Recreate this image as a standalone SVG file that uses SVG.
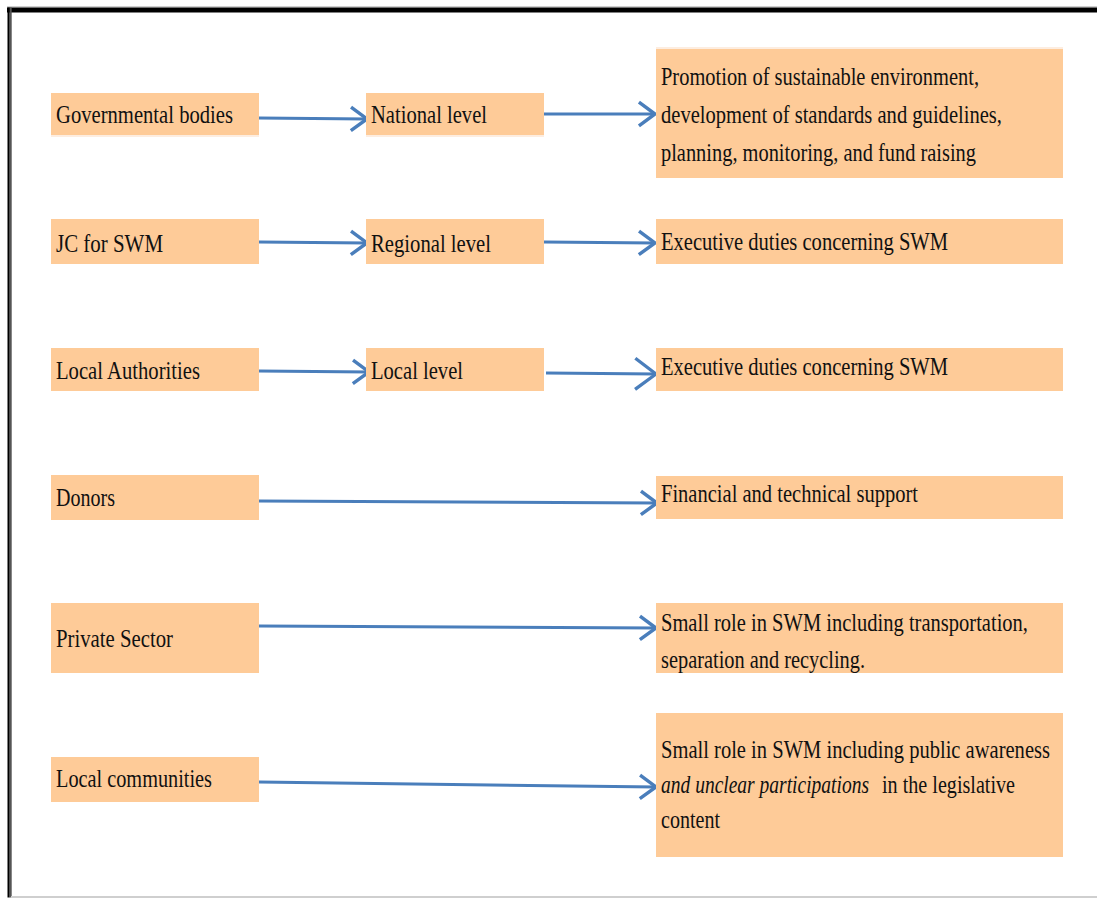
<svg xmlns="http://www.w3.org/2000/svg" width="1097" height="898" viewBox="0 0 1097 898">
<style>
.box{fill:#FECB98}
.sh{fill:#FDEDE0}
.t{font-family:"Liberation Serif","Times New Roman",serif;font-size:25px;fill:#111}
.i{font-style:italic}
.c{stroke:#4A7EBB;stroke-width:3;fill:none}
</style>
<defs>
<marker id="ah" markerUnits="userSpaceOnUse" markerWidth="24" markerHeight="30" viewBox="-18 -14 20 28" refX="0" refY="0" orient="auto">
<path d="M -15 -11 L 0 0 L -15 11" fill="none" stroke="#4A7EBB" stroke-width="3.2"/>
</marker>
<marker id="ahL" markerUnits="userSpaceOnUse" markerWidth="26" markerHeight="36" viewBox="-23 -17 25 34" refX="0" refY="0" orient="auto">
<path d="M -20 -15 L 0 0 L -20 15" fill="none" stroke="#4A7EBB" stroke-width="3.2"/>
</marker>
</defs>
<rect width="1097" height="898" fill="#fff"/>
<g id="frame">
<rect x="7" y="6" width="1090" height="1.5" fill="#cfcfcf"/>
<rect x="7" y="7.5" width="1090" height="5" fill="#000"/>
<rect x="7.5" y="7.5" width="2.2" height="890" fill="#000"/>
<rect x="9.7" y="7.5" width="2" height="890" fill="#555"/>
<rect x="11" y="896" width="1086" height="2" fill="#cfcfcf"/>
</g>
<g id="connectors">
<line class="c" x1="259" y1="118" x2="367" y2="119" marker-end="url(#ah)"/>
<line class="c" x1="544" y1="114" x2="655" y2="114" marker-end="url(#ah)"/>
<line class="c" x1="259" y1="242" x2="367" y2="243" marker-end="url(#ah)"/>
<line class="c" x1="544" y1="242" x2="655" y2="243" marker-end="url(#ah)"/>
<line class="c" x1="259" y1="371" x2="369" y2="372" marker-end="url(#ah)"/>
<line class="c" x1="546" y1="373" x2="656" y2="374" marker-end="url(#ahL)"/>
<line class="c" x1="259" y1="501" x2="657" y2="503" marker-end="url(#ah)"/>
<line class="c" x1="259" y1="626" x2="656" y2="628" marker-end="url(#ah)"/>
<line class="c" x1="259" y1="782" x2="656" y2="787" marker-end="url(#ah)"/>
</g>
<g id="governmental-bodies">
<rect class="sh" x="51" y="135" width="208" height="2"/>
<rect class="box" x="51" y="93" width="208" height="42"/>
<text class="t" x="56" y="123" textLength="177" lengthAdjust="spacingAndGlyphs">Governmental bodies</text>
</g>
<g id="national-level">
<rect class="sh" x="366" y="135" width="178" height="2"/>
<rect class="box" x="366" y="93" width="178" height="42"/>
<text class="t" x="371" y="123" textLength="116" lengthAdjust="spacingAndGlyphs">National level</text>
</g>
<g id="national-role">
<rect class="sh" x="656" y="47" width="407" height="2"/>
<rect class="box" x="656" y="49" width="407" height="129"/>
<text class="t" x="661" y="85" textLength="318" lengthAdjust="spacingAndGlyphs">Promotion of sustainable environment,</text>
<text class="t" x="661" y="123" textLength="341" lengthAdjust="spacingAndGlyphs">development of standards and guidelines,</text>
<text class="t" x="661" y="161" textLength="315" lengthAdjust="spacingAndGlyphs">planning, monitoring, and fund raising</text>
</g>
<g id="jc-for-swm">
<rect class="box" x="51" y="219" width="208" height="45"/>
<text class="t" x="56" y="252" textLength="107" lengthAdjust="spacingAndGlyphs">JC for SWM</text>
</g>
<g id="regional-level">
<rect class="box" x="366" y="219" width="178" height="45"/>
<text class="t" x="371" y="252" textLength="120" lengthAdjust="spacingAndGlyphs">Regional level</text>
</g>
<g id="regional-role">
<rect class="box" x="656" y="219" width="407" height="45"/>
<text class="t" x="661" y="250" textLength="287" lengthAdjust="spacingAndGlyphs">Executive duties concerning SWM</text>
</g>
<g id="local-authorities">
<rect class="box" x="51" y="348" width="208" height="43"/>
<text class="t" x="56" y="379" textLength="144" lengthAdjust="spacingAndGlyphs">Local Authorities</text>
</g>
<g id="local-level">
<rect class="box" x="366" y="348" width="178" height="43"/>
<text class="t" x="371" y="379" textLength="92" lengthAdjust="spacingAndGlyphs">Local level</text>
</g>
<g id="local-role">
<rect class="box" x="656" y="348" width="407" height="43"/>
<text class="t" x="661" y="375" textLength="287" lengthAdjust="spacingAndGlyphs">Executive duties concerning SWM</text>
</g>
<g id="donors">
<rect class="box" x="51" y="475" width="208" height="45"/>
<text class="t" x="56" y="506" textLength="59" lengthAdjust="spacingAndGlyphs">Donors</text>
</g>
<g id="donors-role">
<rect class="box" x="656" y="476" width="407" height="43"/>
<text class="t" x="661" y="502" textLength="257" lengthAdjust="spacingAndGlyphs">Financial and technical support</text>
</g>
<g id="private-sector">
<rect class="box" x="51" y="603" width="208" height="70"/>
<text class="t" x="56" y="647" textLength="117" lengthAdjust="spacingAndGlyphs">Private Sector</text>
</g>
<g id="private-role">
<rect class="box" x="656" y="603" width="407" height="70"/>
<text class="t" x="661" y="631" textLength="367" lengthAdjust="spacingAndGlyphs">Small role in SWM including transportation,</text>
<text class="t" x="661" y="668" textLength="204" lengthAdjust="spacingAndGlyphs">separation and recycling.</text>
</g>
<g id="local-communities">
<rect class="box" x="51" y="757" width="208" height="45"/>
<text class="t" x="56" y="787" textLength="156" lengthAdjust="spacingAndGlyphs">Local communities</text>
</g>
<g id="communities-role">
<rect class="box" x="656" y="713" width="407" height="144"/>
<text class="t" x="661" y="758" textLength="389" lengthAdjust="spacingAndGlyphs">Small role in SWM including public awareness</text>
<text class="t i" x="661" y="793" textLength="208" lengthAdjust="spacingAndGlyphs">and unclear participations</text>
<text class="t" x="882" y="793" textLength="133" lengthAdjust="spacingAndGlyphs">in the legislative</text>
<text class="t" x="661" y="828" textLength="59" lengthAdjust="spacingAndGlyphs">content</text>
</g>
</svg>
